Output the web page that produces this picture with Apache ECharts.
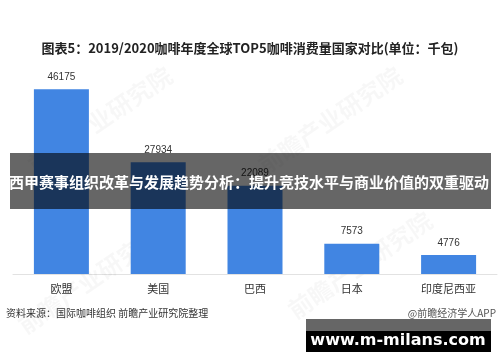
<!DOCTYPE html>
<html><head><meta charset="utf-8">
<script src="https://cdn.jsdelivr.net/npm/echarts@6/dist/echarts.min.js"></script>
<style>html,body{margin:0;padding:0;background:#fff}#c{width:500px;height:362px}</style>
</head><body><div id="c"></div>
<script>
const categories = ['欧盟', '美国', '巴西', '日本', '印度尼西亚'];
const consumption = [46175, 27934, 22089, 7573, 4776];
const titleText = '图表5：2019/2020咖啡年度全球TOP5咖啡消费量国家对比(单位：千包)';
const bannerText = '西甲赛事组织改革与发展趋势分析：提升竞技水平与商业价值的双重驱动';
const sourceText = '资料来源：国际咖啡组织 前瞻产业研究院整理';
const creditText = '@前瞻经济学人APP';
const siteText = 'www.m-milans.com';
const watermarkText = '前瞻产业研究院';

const chart = echarts.init(document.getElementById('c'), null, {renderer: 'canvas'});
const font = '"Noto Sans CJK SC", "Liberation Sans", sans-serif';
const wm = (x, y) => ({
  type: 'text', x: x, y: y, rotation: 0.6, z: 1, silent: true,
  style: {text: watermarkText, fill: 'rgba(0,0,0,0.03)', font: 'bold 24px ' + font, align: 'center', verticalAlign: 'middle'}
});
chart.setOption({
  animation: false,
  backgroundColor: '#fff',
  title: {
    text: titleText, left: 'center', top: 37,
    textStyle: {fontSize: 13, fontWeight: 'bold', color: '#222', fontFamily: font}
  },
  grid: {left: 13, right: 3, top: 74, bottom: 88},
  xAxis: {
    type: 'category', data: categories,
    axisLine: {lineStyle: {color: '#e2e2e2', width: 1}},
    axisTick: {show: false},
    axisLabel: {color: '#333', fontSize: 11, margin: 9, fontFamily: font}
  },
  yAxis: {type: 'value', min: 0, max: 50000, show: false, splitLine: {show: false}},
  series: [{
    type: 'bar', data: consumption, barWidth: 55, z: 2,
    itemStyle: {color: '#4185e2'},
    label: {show: true, position: 'top', distance: 7, color: '#333', fontSize: 10, fontFamily: '"Liberation Sans", sans-serif'}
  }],
  graphic: [
    wm(100, 120), wm(330, 120), wm(90, 280), wm(360, 265),
    {type: 'rect', z: 100, shape: {x: 10, y: 153, width: 481, height: 56}, style: {fill: 'rgba(0,0,0,0.6)'}},
    {type: 'text', z: 101, x: 249, y: 182, style: {text: bannerText, fill: '#fff', font: 'bold 15px ' + font, align: 'center', verticalAlign: 'middle'}},
    {type: 'text', z: 101, x: 6, y: 313, style: {text: sourceText, fill: '#333', font: '10px ' + font, verticalAlign: 'middle'}},
    {type: 'text', z: 101, x: 496, y: 313, style: {text: creditText, fill: '#555', font: '10px ' + font, align: 'right', verticalAlign: 'middle'}},
    {type: 'rect', z: 100, shape: {x: 306, y: 319, width: 185, height: 12}, style: {fill: '#666'}},
    {type: 'rect', z: 100, shape: {x: 306, y: 331, width: 185, height: 21}, style: {fill: '#000'}},
    {type: 'text', z: 101, x: 398, y: 341, style: {text: siteText, fill: '#fff', font: 'bold 16px "DejaVu Sans", sans-serif', align: 'center', verticalAlign: 'middle'}}
  ]
});
</script></body></html>
